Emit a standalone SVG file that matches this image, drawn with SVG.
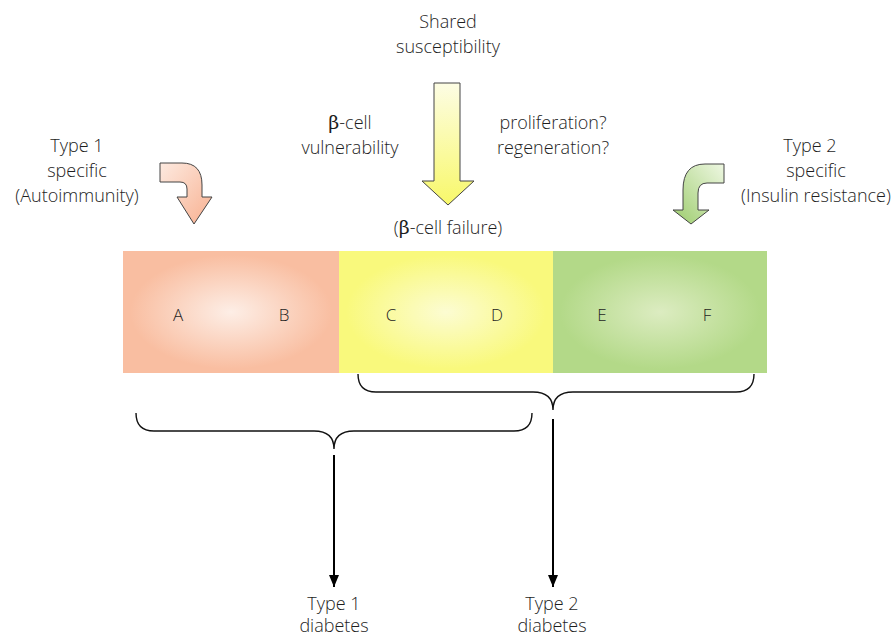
<svg xmlns="http://www.w3.org/2000/svg" width="893" height="637" viewBox="0 0 893 637">
<defs>
<radialGradient id="gPink" cx="0.5" cy="0.5" r="0.55">
<stop offset="0" stop-color="#fdeee6"/><stop offset="0.85" stop-color="#f9bea1"/><stop offset="1" stop-color="#f9bea1"/>
</radialGradient>
<radialGradient id="gYellow" cx="0.5" cy="0.5" r="0.55">
<stop offset="0" stop-color="#fcfcd2"/><stop offset="0.85" stop-color="#f9f97c"/><stop offset="1" stop-color="#f9f97c"/>
</radialGradient>
<radialGradient id="gGreen" cx="0.5" cy="0.5" r="0.55">
<stop offset="0" stop-color="#dcecc1"/><stop offset="0.85" stop-color="#b3d988"/><stop offset="1" stop-color="#b3d988"/>
</radialGradient>
<linearGradient id="aYellow" x1="0" y1="0" x2="0" y2="1">
<stop offset="0" stop-color="#fdfde4"/><stop offset="1" stop-color="#f8f86a"/>
</linearGradient>
<linearGradient id="aPink" x1="0" y1="0" x2="1" y2="1">
<stop offset="0" stop-color="#fdeae0"/><stop offset="1" stop-color="#f8b090"/>
</linearGradient>
<linearGradient id="aGreen" x1="1" y1="0" x2="0" y2="1">
<stop offset="0" stop-color="#eef7e2"/><stop offset="1" stop-color="#9ccc6c"/>
</linearGradient>
<marker id="ah" viewBox="0 0 12 10" refX="12" refY="5" markerWidth="12" markerHeight="10" markerUnits="userSpaceOnUse" orient="auto">
<path d="M0,0 L12,5 L0,10 Z" fill="#000"/>
</marker>
</defs>
<style>
text{font-family:"Open Sans","Liberation Sans",sans-serif;font-size:18px;fill:#1e1e1e;text-anchor:middle;font-weight:300}
.lbl{font-size:17px}
.blk{stroke:#444;stroke-width:1}
.brace{fill:none;stroke:#111;stroke-width:1.4}
.conn{stroke:#000;stroke-width:2;fill:none}
.beta{font-family:"DejaVu Serif",serif;font-size:19px;font-weight:400}
</style>

<g id="box-type1">
<rect x="123" y="251" width="216" height="122" fill="url(#gPink)"/>
<text class="lbl" x="178" y="321">A</text>
<text class="lbl" x="284" y="321">B</text>
</g>
<g id="box-shared">
<rect x="339" y="251" width="214" height="122" fill="url(#gYellow)"/>
<text class="lbl" x="391" y="321">C</text>
<text class="lbl" x="497" y="321">D</text>
</g>
<g id="box-type2">
<rect x="553" y="251" width="214" height="122" fill="url(#gGreen)"/>
<text class="lbl" x="602" y="321">E</text>
<text class="lbl" x="707" y="321">F</text>
</g>

<g id="shared-arrow">
<path class="blk" fill="url(#aYellow)" d="M434,83 L460,83 L460,181 L474,181 L448,205 L422,181 L434,181 Z"/>
</g>
<g id="type1-arrow">
<path class="blk" fill="url(#aPink)" d="M160,163 L182,163 Q202,163 202,185 L202,197 L212,197 L194,224 L177,197 L187,197 L187,189 Q187,182 180,182 L160,182 Z"/>
</g>
<g id="type2-arrow">
<path class="blk" fill="url(#aGreen)" d="M724,164 L705,164 Q683,164 683,190 L683,210 L673,210 L691,224 L709,210 L698,210 L698,193 Q698,183 707,183 L724,183 Z"/>
</g>

<g id="labels">
<text x="448" y="28">Shared</text>
<text x="448" y="53">susceptibility</text>
<text x="350" y="129"><tspan class="beta">β</tspan>-cell</text>
<text x="350" y="154">vulnerability</text>
<text x="553" y="129">proliferation?</text>
<text x="553" y="154">regeneration?</text>
<text x="448" y="234">(<tspan class="beta">β</tspan>-cell failure)</text>
<text x="77" y="152">Type 1</text>
<text x="77" y="177">specific</text>
<text x="77" y="202">(Autoimmunity)</text>
<text x="810" y="152">Type 2</text>
<text x="816" y="177">specific</text>
<text x="816" y="202">(Insulin resistance)</text>
<text x="334" y="610">Type 1</text>
<text x="334" y="632">diabetes</text>
<text x="552" y="610">Type 2</text>
<text x="552" y="632">diabetes</text>
</g>

<g id="connectors">
<path class="brace" d="M358,374 Q358,392 376,392 L533,392 Q553,392 553,410 Q553,392 573,392 L736,392 Q754,392 754,374"/>
<path class="brace" d="M136,413 Q136,431 154,431 L314,431 Q334,431 334,449 Q334,431 354,431 L514,431 Q532,431 532,413"/>
<line class="conn" x1="334" y1="455" x2="334" y2="587" marker-end="url(#ah)"/>
<line class="conn" x1="553" y1="419" x2="553" y2="587" marker-end="url(#ah)"/>
</g>
</svg>
